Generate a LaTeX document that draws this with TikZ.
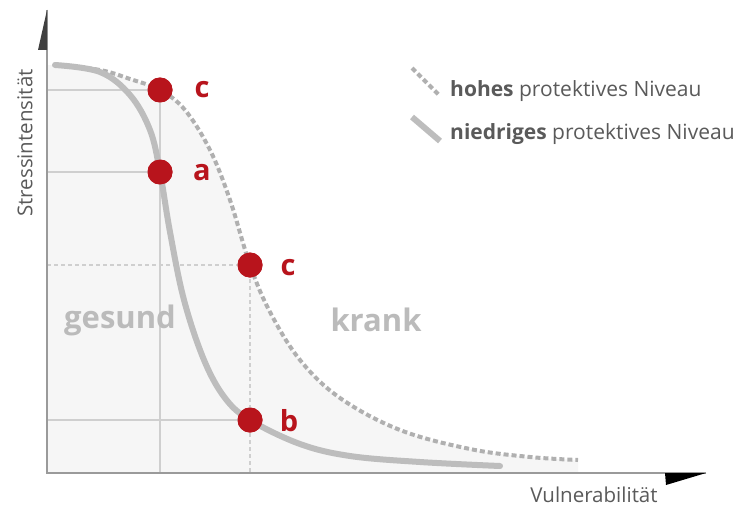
\documentclass[tikz,border=0pt]{standalone}
\usepackage{fontspec}
\setmainfont{Open Sans}
\definecolor{dotred}{HTML}{B8141C}
\definecolor{curvegray}{HTML}{BDBDBD}
\definecolor{dashgray}{HTML}{B0B0B0}
\definecolor{gridgray}{HTML}{CFCFCF}
\definecolor{axisgray}{HTML}{9A9A9A}
\definecolor{areagray}{HTML}{F6F6F6}
\definecolor{textgray}{HTML}{5A5A5A}
\definecolor{zonegray}{HTML}{BBBBBB}
\begin{document}
\begin{tikzpicture}[x=1pt,y=-1pt,
  dot/.style={circle,fill=dotred,minimum size=25pt,inner sep=0pt},
  ptlabel/.style={text=dotred,font=\fontsize{29}{32}\selectfont\bfseries,inner sep=0pt},
  gridline/.style={gridgray,line width=1.6pt},
  griddash/.style={gridgray,line width=1.4pt,dash pattern=on 4pt off 3pt},
  lowcurve/.style={curvegray,line width=6pt,line cap=round},
  highcurve/.style={dashgray,line width=4pt,dash pattern=on 5pt off 3pt},
  zone/.style={text=zonegray,font=\fontsize{31}{34}\selectfont\bfseries,inner sep=0pt},
  legendtext/.style={text=textgray,font=\fontsize{21}{24}\selectfont,anchor=west,inner sep=0pt},
  axislabel/.style={text=textgray,font=\fontsize{20.5}{23}\selectfont,inner sep=0pt}
]
\useasboundingbox (0,0) rectangle (743,511);
\fill[white] (0,0) rectangle (743,511);
% light area under the high curve
\fill[areagray] (47,65) -- plot[smooth,tension=0.6] coordinates {(55,65) (100,70) (130,79) (160,90) (185,110) (210,150) (230,200) (250,265) (270,312) (300,360) (340,398) (400,430) (470,449) (530,457) (578,460)} -- (578,473) -- (47,473) -- cycle;

% axis coordinates
\coordinate (O) at (47,473);
\coordinate (ytop) at (47,10);
\coordinate (xend) at (706,473);
\coordinate (y90) at (47,90);
\coordinate (y172) at (47,172);
\coordinate (y265) at (47,265);
\coordinate (y420) at (47,420);
\coordinate (x160) at (160,473);
\coordinate (x250) at (250,473);

% dots
\node[dot] (c1) at (160,90) {};
\node[dot] (a) at (160,172) {};
\node[dot] (c2) at (250,265) {};
\node[dot] (b) at (250,420) {};

% grid lines
\draw[gridline] (y90) -- (c1.center);
\draw[gridline] (y172) -- (a.center);
\draw[gridline] (c1.center) -- (x160);
\draw[griddash] (y265) -- (c2.center);
\draw[griddash] (c2.center) -- (x250);
\draw[gridline] (y420) -- (b.center);

% zone labels
\node[zone] (gesund) at (120,320) {gesund};
\node[zone] (krank) at (376,320) {krank};

% curves
\draw[highcurve] plot[smooth,tension=0.6] coordinates {(55,65) (100,70) (130,79) (160,90) (185,110) (210,150) (230,200) (250,265) (270,312) (300,360) (340,398) (400,430) (470,449) (530,457) (578,460)};
\draw[lowcurve] plot[smooth,tension=0.6] coordinates {(55,65) (100,72) (130,95) (150,130) (160,172) (170,232) (184,300) (204,360) (225,398) (250,420) (300,444) (350,456) (420,462) (500,466)};

% axes
\draw[axisgray,line width=2pt] (ytop) -- (O) -- (xend);
\fill[black!75] (ytop) -- (47,50) -- (38,50) -- cycle;
\fill[black] (665,473) -- (xend) -- (666,485) -- cycle;

% dots again on top
\node[dot] at (c1) {};
\node[dot] at (a) {};
\node[dot] at (c2) {};
\node[dot] at (b) {};

% point labels
\node[ptlabel] (lc1) at (202,90) {c};
\node[ptlabel] (la) at (202,173) {a};
\node[ptlabel] (lc2) at (288,268) {c};
\node[ptlabel] (lb) at (289,421) {b};

% axis labels
\node[axislabel,rotate=90] (ylab) at (25,143) {Stressintensität};
\node[axislabel] (xlab) at (594,495) {Vulnerabilität};

% legend
\coordinate (h1) at (412,68);
\coordinate (h2) at (440,96);
\coordinate (n1) at (412,117);
\coordinate (n2) at (440,141);
\draw[highcurve] (h1) -- (h2);
\draw[lowcurve,line cap=butt] (n1) -- (n2);
\node[legendtext] (hl) at (450,91) {\textbf{hohes} protektives Niveau};
\node[legendtext] (nl) at (450,134) {\textbf{niedriges} protektives Niveau};
\end{tikzpicture}
\end{document}
